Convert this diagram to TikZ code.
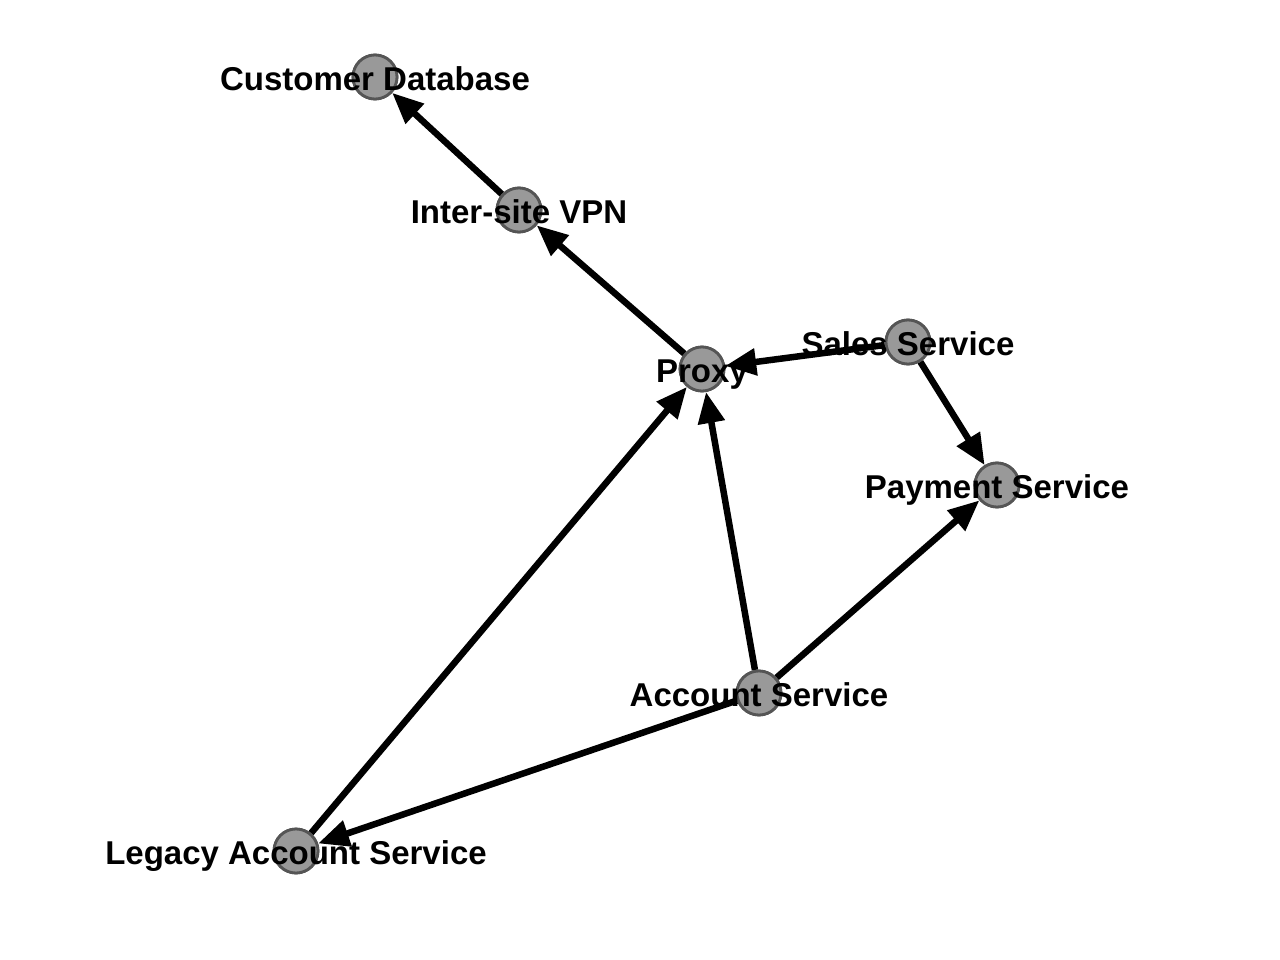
\documentclass[tikz,border=0pt]{standalone}
\usepackage{fontspec}
\setmainfont{Liberation Sans}
\usetikzlibrary{arrows.meta}
\definecolor{nodefill}{HTML}{999999}
\definecolor{nodeedge}{HTML}{555555}
\tikzset{
  vert/.style={circle, fill=nodefill, draw=nodeedge, line width=2.8pt, minimum size=44pt, inner sep=0pt},
  lbl/.style={anchor=base, yshift=-13.5pt, inner sep=0pt, font=\fontsize{33pt}{36pt}\selectfont\bfseries},
  edge/.style={line width=6.5pt, -{Triangle[length=31pt,width=26pt]}}
}
\begin{document}
\begin{tikzpicture}[x=1pt,y=-1pt]
\useasboundingbox (0,0) rectangle (1280,960);
\coordinate (cCD) at (375,77);
\coordinate (cVPN) at (519,210);
\coordinate (cPX) at (702,369);
\coordinate (cSS) at (908,342);
\coordinate (cPS) at (997,485);
\coordinate (cAS) at (759,693);
\coordinate (cLA) at (296,851);
\node[vert] (CD) at (cCD) {};
\node[vert] (VPN) at (cVPN) {};
\node[vert] (PX) at (cPX) {};
\node[vert] (SS) at (cSS) {};
\node[vert] (PS) at (cPS) {};
\node[vert] (AS) at (cAS) {};
\node[vert] (LA) at (cLA) {};
\draw[edge] (VPN) -- (CD);
\draw[edge] (PX) -- (VPN);
\draw[edge] (SS) -- (PX);
\draw[edge] (SS) -- (PS);
\draw[edge] (AS) -- (PS);
\draw[edge] (AS) -- (PX);
\draw[edge] (AS) -- (LA);
\draw[edge] (LA) -- (PX);
\node[vert] at (cCD) {};
\node[vert] at (cVPN) {};
\node[vert] at (cPX) {};
\node[vert] at (cSS) {};
\node[vert] at (cPS) {};
\node[vert] at (cAS) {};
\node[vert] at (cLA) {};
\node[lbl] (tCD) at (cCD) {Customer Database};
\node[lbl] (tVPN) at (cVPN) {Inter-site VPN};
\node[lbl] (tPX) at (cPX) {Proxy};
\node[lbl] (tSS) at (cSS) {Sales Service};
\node[lbl] (tPS) at (cPS) {Payment Service};
\node[lbl] (tAS) at (cAS) {Account Service};
\node[lbl] (tLA) at (cLA) {Legacy Account Service};
\end{tikzpicture}
\end{document}
